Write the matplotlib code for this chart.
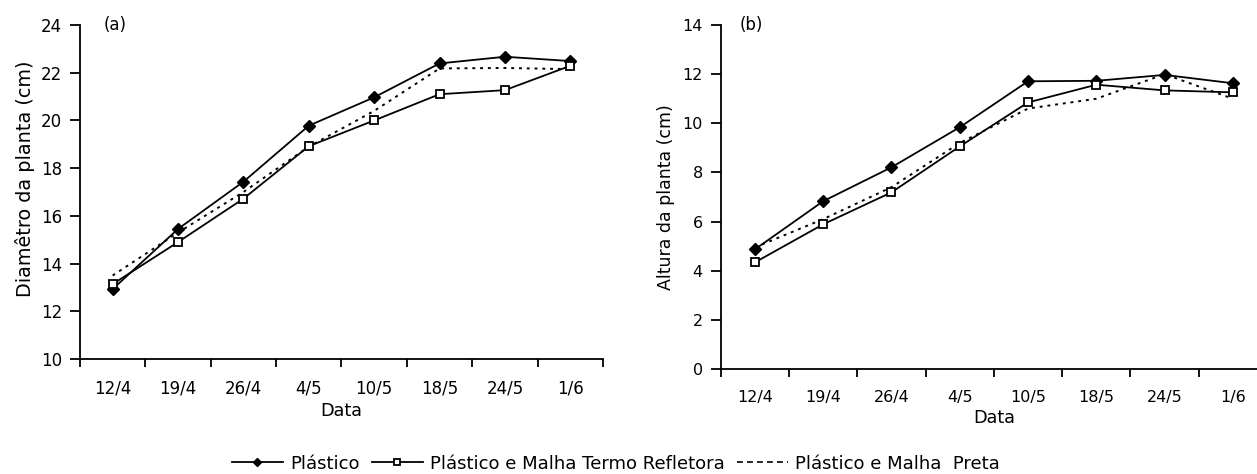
import matplotlib
matplotlib.use("Agg")
import matplotlib.pyplot as plt
from matplotlib.lines import Line2D

datas = ["12/4", "19/4", "26/4", "4/5", "10/5", "18/5", "24/5", "1/6"]

# (a) diametro da planta (cm)
diam_plastico = [12.93, 15.45, 17.43, 19.78, 20.97, 22.39, 22.67, 22.49]
diam_termo = [13.14, 14.90, 16.72, 18.92, 20.00, 21.10, 21.27, 22.29]
diam_preta = [13.50, 15.30, 17.00, 18.90, 20.40, 22.18, 22.20, 22.15]

# (b) altura da planta (cm)
alt_plastico = [4.87, 6.83, 8.21, 9.84, 11.71, 11.73, 11.97, 11.63]
alt_termo = [4.34, 5.89, 7.19, 9.06, 10.85, 11.57, 11.34, 11.26]
alt_preta = [4.95, 6.10, 7.40, 9.20, 10.60, 11.00, 12.00, 11.00]

nomes = ["Plástico", "Plástico e Malha Termo Refletora", "Plástico e Malha  Preta"]

plt.rcParams['font.family'] = ['DejaVu Sans']

fig = plt.figure(figsize=(12.57, 4.74), dpi=100)
ax_a = fig.add_axes([0.0636, 0.2426, 0.4161, 0.7046])
ax_b = fig.add_axes([0.5734, 0.2215, 0.4346, 0.7257])


def painel(ax, p, t, m, ylim, ylabel, letra, tsize, lsize, lx, lpad, ly):
    x = list(range(len(datas)))
    l1, = ax.plot(x, p, color='black', lw=1.3, marker='D', ms=6,
                  mfc='black', mec='black', zorder=3)
    l2, = ax.plot(x, t, color='black', lw=1.3, marker='s', ms=6,
                  mfc='white', mec='black', mew=1.3, zorder=4)
    ax.plot(x, m, color='black', lw=1.4, ls=(0, (1.5, 2.5)), zorder=2)
    ax.set_xlim(-0.5, len(datas) - 0.5)
    ax.set_ylim(*ylim)
    ax.set_yticks(range(ylim[0], ylim[1] + 1, 2))
    ax.set_xticks(x)
    ax.set_xticklabels(datas)
    ax.set_xticks([i - 0.5 for i in range(len(datas) + 1)], minor=True)
    ax.tick_params(axis='x', which='major', length=0, pad=15, labelsize=tsize)
    ax.tick_params(axis='x', which='minor', length=6, width=1.3, direction='out')
    ax.tick_params(axis='y', length=7, width=1.3, pad=6, labelsize=tsize)
    for s in ['top', 'right']:
        ax.spines[s].set_visible(False)
    for s in ['left', 'bottom']:
        ax.spines[s].set_linewidth(1.3)
    ax.set_xlabel("Data", fontsize=12.7, labelpad=3)
    ax.set_ylabel(ylabel, fontsize=lsize, labelpad=lpad)
    ax.yaxis.label.set_y(ly)
    ax.text(lx, 1.0, letra, transform=ax.transAxes, fontsize=12, va='center')
    return l1, l2


l1, l2 = painel(ax_a, diam_plastico, diam_termo, diam_preta, (10, 24),
                "Diamêtro da planta (cm)", "(a)", 12, 13.9, 0.045, 4, 0.54)
painel(ax_b, alt_plastico, alt_termo, alt_preta, (0, 14),
       "Altura da planta (cm)", "(b)", 11.5, 12.5, 0.035, 5, 0.5)

l3 = Line2D([], [], color='black', lw=1.2, ls=(0, (3.5, 2.5)))

fig.legend([l1, l2, l3], nomes, loc='center', bbox_to_anchor=(0.49, 0.022),
           ncol=3, frameon=False, fontsize=13, handlelength=2.8,
           handletextpad=0.4, columnspacing=0.7, markerscale=0.7,
           borderaxespad=0)

fig.savefig("out.png", dpi=100)
